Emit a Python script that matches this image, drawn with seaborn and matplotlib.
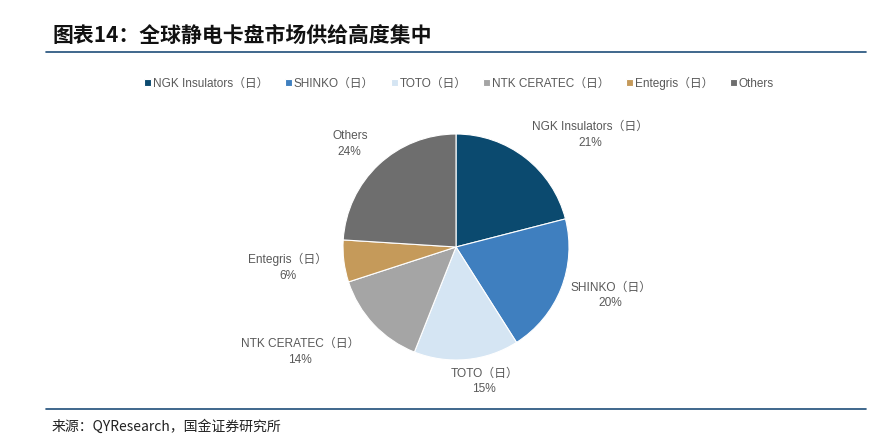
import matplotlib
matplotlib.use("Agg")
import matplotlib.pyplot as plt
import seaborn as sns

# ----------------------------------------------------------------------
# Data
# ----------------------------------------------------------------------
companies = ["NGK Insulators（日）", "SHINKO（日）", "TOTO（日）",
             "NTK CERATEC（日）", "Entegris（日）", "Others"]
shares = [21, 20, 15, 14, 6, 24]
slice_colors = ["#0b4a6f", "#3f7fbf", "#d5e5f3", "#a5a5a5", "#c59a5a", "#6e6e6e"]
# label anchors in pie units (radius = 1)
label_pos = [(1.19, 0.99), (1.37, -0.43), (0.25, -1.19),
             (-1.38, -0.93), (-1.49, -0.18), (-0.94, 0.91)]

title = "图表14：全球静电卡盘市场供给高度集中"
source = "来源：QYResearch，国金证券研究所"

sns.set_theme(style="white")
plt.rcParams["font.family"] = ["Liberation Sans", "Noto Sans CJK SC", "DejaVu Sans"]

W, H = 888, 444
fig = plt.figure(figsize=(W / 100, H / 100), dpi=100)

# pie centre (456, 247) px from top-left, radius 113 px
R = 113
aw, ah = 600, 300
cx, cy = 456, H - 247
ax = fig.add_axes([(cx - aw / 2) / W, (cy - ah / 2) / H, aw / W, ah / H])

pal = sns.color_palette(slice_colors)
wedges, _ = ax.pie(shares, colors=pal, startangle=90, counterclock=False,
                   radius=1, wedgeprops=dict(linewidth=0.8, edgecolor="white"))
ax.set_xlim(-aw / 2 / R, aw / 2 / R)
ax.set_ylim(-ah / 2 / R, ah / 2 / R)
ax.set_aspect("equal", adjustable="box")
ax.axis("off")

for name, val, (lx, ly) in zip(companies, shares, label_pos):
    ax.text(lx, ly, f"{name}\n{val}%", ha="center", va="center",
            fontsize=8.6, color="#595959", linespacing=1.4)

# legend row
fig.legend(wedges, companies, loc="center", bbox_to_anchor=(459 / W, 1 - 83 / H),
           ncol=6, frameon=False, fontsize=8.5, labelcolor="#595959",
           handlelength=0.6, handleheight=0.6, handletextpad=0.15,
           columnspacing=1.4)

# title + rules
fig.text(52 / W, 1 - 35 / H, title, fontsize=15, fontweight="bold",
         family=["Noto Sans CJK SC"], color="#111111", va="center", ha="left")
fig.add_artist(plt.Line2D([46 / W, 866 / W], [1 - 52 / H] * 2,
                          color="#1f4e79", lw=1.2))
fig.add_artist(plt.Line2D([46 / W, 866 / W], [1 - 409 / H] * 2,
                          color="#1f4e79", lw=1.2))
fig.text(52 / W, 1 - 427 / H, source, fontsize=10,
         family=["Noto Sans CJK SC"], color="#222222", va="center", ha="left")

fig.savefig("out.png", dpi=100)
